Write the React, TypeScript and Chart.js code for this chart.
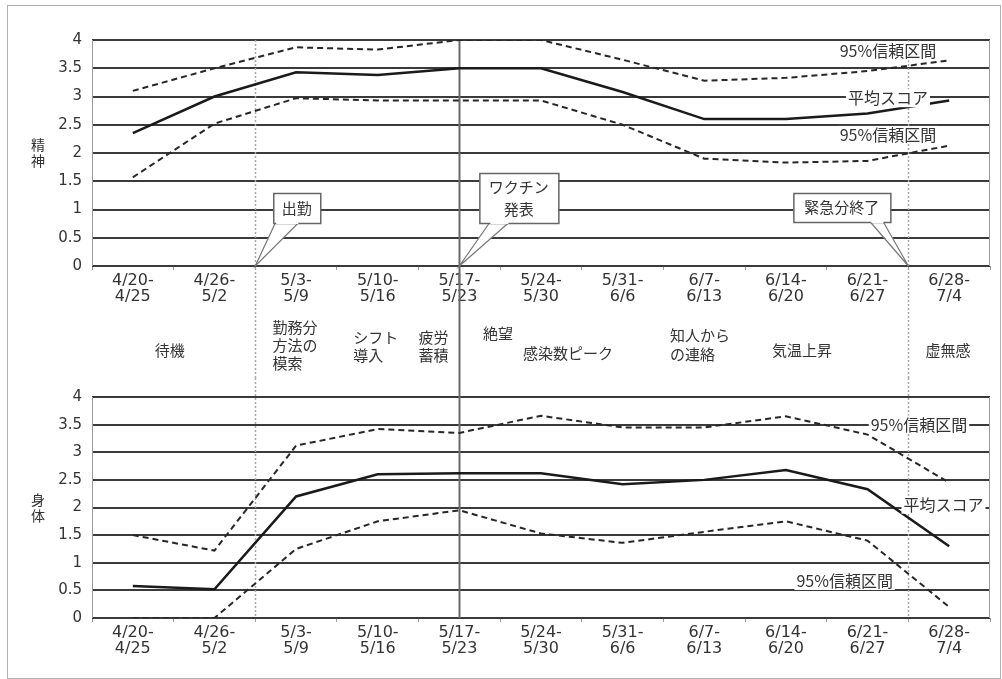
import { useEffect, useRef } from 'react';
import { Chart, registerables } from 'chart.js';

Chart.register(...registerables);

// Weekly periods shown on both panels
const weekLabels: string[][] = [
  ['4/20-', '4/25'],
  ['4/26-', '5/2'],
  ['5/3-', '5/9'],
  ['5/10-', '5/16'],
  ['5/17-', '5/23'],
  ['5/24-', '5/30'],
  ['5/31-', '6/6'],
  ['6/7-', '6/13'],
  ['6/14-', '6/20'],
  ['6/21-', '6/27'],
  ['6/28-', '7/4'],
];

// 精神 (mental) scores
const mentalUpper = [3.1, 3.5, 3.87, 3.83, 4.0, 4.0, 3.65, 3.28, 3.33, 3.45, 3.64];
const mentalMean = [2.35, 3.0, 3.43, 3.38, 3.5, 3.5, 3.08, 2.6, 2.6, 2.7, 2.93];
const mentalLower = [1.57, 2.52, 2.97, 2.93, 2.93, 2.93, 2.5, 1.9, 1.83, 1.86, 2.13];

// 身体 (physical) scores
const physicalUpper = [1.5, 1.22, 3.12, 3.42, 3.35, 3.66, 3.45, 3.45, 3.65, 3.32, 2.45];
const physicalMean = [0.58, 0.52, 2.2, 2.6, 2.62, 2.62, 2.42, 2.5, 2.68, 2.33, 1.3];
const physicalLower = [0, 0, 1.25, 1.75, 1.95, 1.53, 1.36, 1.56, 1.75, 1.4, 0.2];

// Event markers (week index, fractional = between weeks)
const markerWeeks = [1.5, 4, 9.5];
const calloutTexts = [['出勤'], ['ワクチン', '発表'], ['緊急分終了']];

// Notes written between the two panels
const phaseNotes = [
  ['待機'],
  ['勤務分', '方法の', '模索'],
  ['シフト', '導入'],
  ['疲労', '蓄積'],
  ['絶望'],
  ['感染数ピーク'],
  ['知人から', 'の連絡'],
  ['気温上昇'],
  ['虚無感'],
];

const panelTitles = ['精神', '身体'];
const ciLabel = '95%信頼区間';
const meanLabel = '平均スコア';

const W = 1002;
const TOP_H = 378;
const BOTTOM_H = 301;
const INK = '#333';
const CJK = '"Noto Sans CJK JP", sans-serif';
const TICK_FAMILY = '"DejaVu Sans", sans-serif';

const phaseLayout = [
  { x: 0.27, y: [350] },
  { x: 1.71, y: [327, 345, 363] },
  { x: 2.7, y: [337, 355] },
  { x: 3.5, y: [337, 355] },
  { x: 4.29, y: [333] },
  { x: 4.78, y: [353] },
  { x: 6.58, y: [335, 354] },
  { x: 7.83, y: [350] },
  { x: 9.71, y: [350] },
];

const calloutLayout = [
  { dx: 18, top: 193, w: 47, h: 30, base: [2, 25] },
  { dx: 20, top: 173, w: 79, h: 50, base: [10, 29] },
  { dx: -115, top: 193, w: 97, h: 29, base: [77, 90] },
];

function drawMarkers(chart: any, y0: number, y1: number) {
  const ctx = chart.ctx;
  const xs = chart.scales.x;
  markerWeeks.forEach((w, i) => {
    const x = Math.round(xs.getPixelForValue(w)) + 0.5;
    ctx.save();
    ctx.strokeStyle = i === 1 ? '#6a6a6a' : '#a8a8a8';
    ctx.lineWidth = i === 1 ? 2 : 1.5;
    ctx.setLineDash(i === 1 ? [] : [2, 2]);
    ctx.beginPath();
    ctx.moveTo(x, y0);
    ctx.lineTo(x, y1);
    ctx.stroke();
    ctx.restore();
  });
}

function labelWithBg(ctx: any, text: string, cx: number, cy: number) {
  ctx.save();
  ctx.font = `16px ${CJK}`;
  const w = ctx.measureText(text).width;
  ctx.fillStyle = '#fff';
  ctx.fillRect(cx - w / 2 - 2, cy - 9, w + 4, 18);
  ctx.fillStyle = INK;
  ctx.textAlign = 'center';
  ctx.textBaseline = 'middle';
  ctx.fillText(text, cx, cy);
  ctx.restore();
}

function drawPanelTitle(chart: any, title: string) {
  const ctx = chart.ctx;
  const a = chart.chartArea;
  const mid = (a.top + a.bottom) / 2;
  ctx.save();
  ctx.font = `14px ${CJK}`;
  ctx.fillStyle = INK;
  ctx.textAlign = 'center';
  ctx.textBaseline = 'middle';
  const chars = Array.from(title);
  chars.forEach((c, i) => {
    ctx.fillText(c, 38, mid + (i - (chars.length - 1) / 2) * 16);
  });
  ctx.restore();
}

function drawFrame(chart: any) {
  const ctx = chart.ctx;
  const a = chart.chartArea;
  ctx.save();
  ctx.strokeStyle = '#9a9a9a';
  ctx.lineWidth = 1;
  ctx.beginPath();
  ctx.moveTo(Math.round(a.left) + 0.5, a.top);
  ctx.lineTo(Math.round(a.left) + 0.5, a.bottom);
  ctx.moveTo(Math.round(a.right) - 0.5, a.top);
  ctx.lineTo(Math.round(a.right) - 0.5, a.bottom);
  ctx.stroke();
  ctx.restore();
}

function makeOptions(height: number, padTop: number, bottomY: number) {
  return {
    animation: false,
    responsive: false,
    maintainAspectRatio: false,
    layout: { padding: { top: padTop, right: 12, left: 0, bottom: 0 } },
    plugins: { legend: { display: false }, tooltip: { enabled: false } },
    elements: { point: { radius: 0 }, line: { tension: 0 } },
    scales: {
      x: {
        type: 'category',
        offset: true,
        border: { display: false },
        grid: { display: true, drawOnChartArea: false, offset: true, tickLength: 4, color: '#9a9a9a', lineWidth: 1 },
        ticks: {
          autoSkip: false,
          maxRotation: 0,
          padding: 2,
          color: INK,
          font: { family: TICK_FAMILY, size: 16, lineHeight: 1.05 },
        },
        afterFit: (s: any) => {
          s.height = height - bottomY;
        },
      },
      y: {
        min: 0,
        max: 4,
        border: { display: false },
        grid: { color: '#3a3a3a', lineWidth: 2, drawTicks: false },
        ticks: {
          stepSize: 0.5,
          padding: 10,
          color: INK,
          font: { family: TICK_FAMILY, size: 15 },
          callback: (v: any) => String(v),
        },
        afterFit: (s: any) => {
          s.width = 92;
        },
      },
    },
  };
}

function datasets(upper: number[], mean: number[], lower: number[]) {
  const dash = { borderColor: '#262626', borderWidth: 2, borderDash: [6, 4], pointRadius: 0, fill: false };
  return [
    { label: ciLabel, data: upper, ...dash },
    { label: meanLabel, data: mean, borderColor: '#1a1a1a', borderWidth: 2.5, pointRadius: 0, fill: false },
    { label: ciLabel, data: lower, ...dash },
  ];
}

const topPlugin = {
  id: 'mentalDecor',
  beforeDatasetsDraw(chart: any) {
    drawFrame(chart);
    drawMarkers(chart, chart.chartArea.top, chart.height);
  },
  afterDatasetsDraw(chart: any) {
    const ctx = chart.ctx;
    const xs = chart.scales.x;
    const ys = chart.scales.y;
    // series labels
    labelWithBg(ctx, ciLabel, xs.getPixelForValue(9.25), ys.getPixelForValue(3.8));
    labelWithBg(ctx, meanLabel, xs.getPixelForValue(9.25), ys.getPixelForValue(2.97));
    labelWithBg(ctx, ciLabel, xs.getPixelForValue(9.25), ys.getPixelForValue(2.32));

    // callouts pointing at the event markers
    const tipY = ys.getPixelForValue(0);
    markerWeeks.forEach((w, i) => {
      const tipX = xs.getPixelForValue(w);
      const L = calloutLayout[i];
      const left = tipX + L.dx;
      const bottom = L.top + L.h;
      ctx.save();
      // pointer wedge
      ctx.beginPath();
      ctx.moveTo(left + L.base[0], bottom - 1);
      ctx.lineTo(tipX, tipY);
      ctx.lineTo(left + L.base[1], bottom - 1);
      ctx.closePath();
      ctx.fillStyle = '#fff';
      ctx.fill();
      ctx.strokeStyle = '#777';
      ctx.lineWidth = 1.2;
      ctx.beginPath();
      ctx.moveTo(left + L.base[0], bottom);
      ctx.lineTo(tipX, tipY);
      ctx.lineTo(left + L.base[1], bottom);
      ctx.stroke();
      // box
      ctx.fillStyle = '#fff';
      ctx.fillRect(left, L.top, L.w, L.h);
      ctx.strokeStyle = '#666';
      ctx.lineWidth = 1.5;
      ctx.strokeRect(left + 0.5, L.top + 0.5, L.w, L.h);
      // cover the base of the wedge inside the box
      ctx.fillStyle = '#fff';
      ctx.fillRect(left + L.base[0] + 1, bottom - 1, L.base[1] - L.base[0] - 1, 2);
      ctx.font = `15px ${CJK}`;
      ctx.fillStyle = INK;
      ctx.textBaseline = 'middle';
      ctx.textAlign = 'center';
      const lines = calloutTexts[i];
      const lh = 22;
      lines.forEach((t, k) => {
        ctx.fillText(t, left + L.w / 2, L.top + L.h / 2 + (k - (lines.length - 1) / 2) * lh);
      });
      ctx.restore();
    });
  },
  afterDraw(chart: any) {
    const ctx = chart.ctx;
    const xs = chart.scales.x;
    drawPanelTitle(chart, panelTitles[0]);
    ctx.save();
    ctx.font = `15px ${CJK}`;
    ctx.fillStyle = INK;
    ctx.textAlign = 'left';
    ctx.textBaseline = 'middle';
    phaseNotes.forEach((lines, i) => {
      const p = phaseLayout[i];
      const x = xs.getPixelForValue(p.x);
      lines.forEach((t, k) => ctx.fillText(t, x, p.y[k]));
    });
    ctx.restore();
  },
};

const bottomPlugin = {
  id: 'physicalDecor',
  beforeDatasetsDraw(chart: any) {
    drawFrame(chart);
    drawMarkers(chart, 0, chart.chartArea.bottom);
  },
  afterDatasetsDraw(chart: any) {
    const ctx = chart.ctx;
    const xs = chart.scales.x;
    const ys = chart.scales.y;
    labelWithBg(ctx, ciLabel, xs.getPixelForValue(9.63), ys.getPixelForValue(3.5));
    labelWithBg(ctx, meanLabel, xs.getPixelForValue(9.93), ys.getPixelForValue(2.05));
    labelWithBg(ctx, ciLabel, xs.getPixelForValue(8.72), ys.getPixelForValue(0.67));
  },
  afterDraw(chart: any) {
    drawPanelTitle(chart, panelTitles[1]);
  },
};

export default function App() {
  const topRef = useRef<HTMLCanvasElement>(null);
  const bottomRef = useRef<HTMLCanvasElement>(null);

  useEffect(() => {
    const top = new Chart(topRef.current as HTMLCanvasElement, {
      type: 'line',
      data: { labels: weekLabels, datasets: datasets(mentalUpper, mentalMean, mentalLower) },
      options: makeOptions(TOP_H, 40, 266) as any,
      plugins: [topPlugin],
    } as any);
    const bottom = new Chart(bottomRef.current as HTMLCanvasElement, {
      type: 'line',
      data: { labels: weekLabels, datasets: datasets(physicalUpper, physicalMean, physicalLower) },
      options: makeOptions(BOTTOM_H, 14, 618 - TOP_H) as any,
      plugins: [bottomPlugin],
    } as any);
    return () => {
      top.destroy();
      bottom.destroy();
    };
  }, []);

  return (
    <div
      style={{
        position: 'absolute',
        left: 0,
        top: 0,
        width: W,
        height: 679,
        background: '#fff',
        overflow: 'hidden',
      }}
    >
      <canvas
        ref={topRef}
        width={W}
        height={TOP_H}
        style={{ position: 'absolute', left: 0, top: 0, width: W, height: TOP_H }}
      />
      <canvas
        ref={bottomRef}
        width={W}
        height={BOTTOM_H}
        style={{ position: 'absolute', left: 0, top: TOP_H, width: W, height: BOTTOM_H }}
      />
      <div
        style={{
          position: 'absolute',
          left: 7,
          top: 5,
          width: 992,
          height: 672,
          border: '1px solid #b0b0b0',
          pointerEvents: 'none',
        }}
      />
    </div>
  );
}
